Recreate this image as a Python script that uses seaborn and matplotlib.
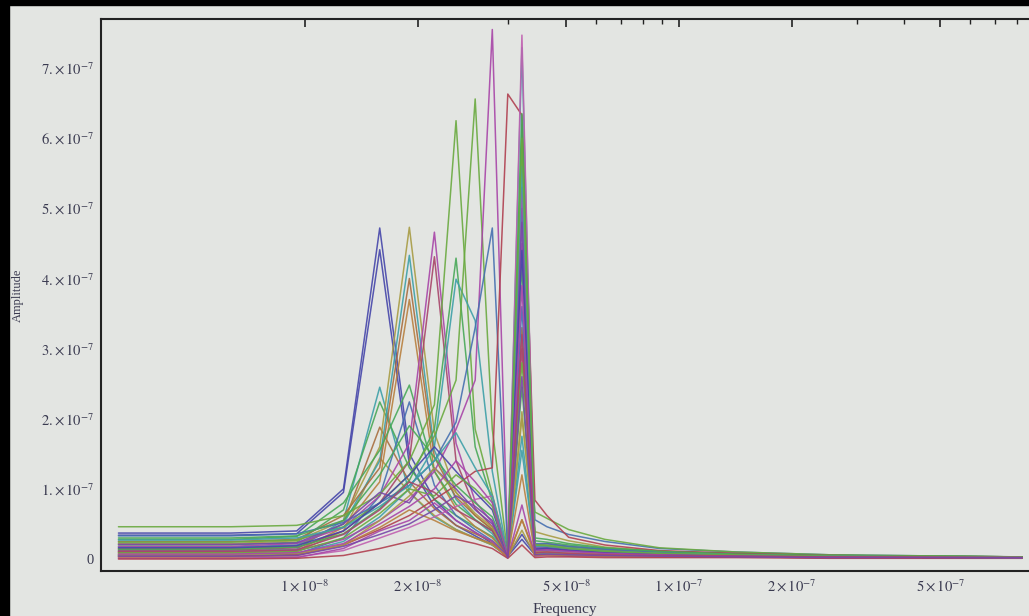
import matplotlib
matplotlib.use('Agg')
import matplotlib.pyplot as plt
from matplotlib.patches import Rectangle
from matplotlib.ticker import FixedLocator, NullFormatter
import pandas as pd
import seaborn as sns

# FFT bins k = 1..14, then a few bins along the smooth tail (Hz)
freq = [3.17e-9, 6.34e-9, 9.50e-9, 1.267e-8, 1.584e-8, 1.901e-8, 2.218e-8,
        2.534e-8, 2.851e-8, 3.168e-8, 3.485e-8, 3.802e-8, 4.118e-8, 4.435e-8,
        5.069e-8, 6.336e-8, 8.870e-8, 1.426e-7, 2.534e-7, 8.268e-7]

# amplitudes in units of 1e-7
amp_blue_a = [0.37, 0.37, 0.40, 1.00, 4.72, 1.50, 0.85, 0.55, 0.38, 0.22, 0.05, 0.35, 0.08, 0.10, 0.08, 0.06, 0.05, 0.04, 0.03, 0.02]
amp_blue_b = [0.34, 0.34, 0.36, 0.95, 4.41, 1.35, 0.75, 0.48, 0.33, 0.20, 0.04, 0.28, 0.06, 0.08, 0.07, 0.05, 0.04, 0.03, 0.03, 0.02]
amp_teal_a = [0.12, 0.12, 0.14, 0.55, 2.45, 0.95, 0.60, 0.42, 0.30, 0.20, 0.03, 1.75, 0.07, 0.09, 0.07, 0.06, 0.05, 0.04, 0.03, 0.02]
amp_green_a = [0.20, 0.20, 0.24, 0.70, 2.24, 1.30, 0.85, 0.62, 0.46, 0.32, 0.05, 2.45, 0.14, 0.16, 0.14, 0.11, 0.08, 0.06, 0.04, 0.03]
amp_brown_a = [0.15, 0.15, 0.18, 0.50, 1.88, 1.10, 0.72, 0.48, 0.36, 0.25, 0.04, 0.56, 0.09, 0.11, 0.09, 0.07, 0.05, 0.04, 0.03, 0.02]
amp_olive_a = [0.08, 0.08, 0.10, 0.40, 1.44, 0.95, 0.62, 0.42, 0.30, 0.20, 0.03, 0.41, 0.05, 0.07, 0.06, 0.05, 0.04, 0.03, 0.02, 0.02]
amp_olive_b = [0.22, 0.22, 0.26, 0.55, 1.60, 4.73, 1.80, 0.95, 0.62, 0.42, 0.05, 2.00, 0.39, 0.34, 0.26, 0.17, 0.11, 0.07, 0.05, 0.03]
amp_teal_b = [0.17, 0.17, 0.20, 0.50, 1.40, 4.33, 1.55, 0.85, 0.56, 0.36, 0.05, 1.55, 0.10, 0.12, 0.10, 0.08, 0.06, 0.05, 0.03, 0.02]
amp_brown_b = [0.25, 0.25, 0.28, 0.62, 1.30, 4.00, 1.45, 0.88, 0.62, 0.42, 0.05, 3.30, 0.20, 0.22, 0.18, 0.13, 0.09, 0.07, 0.05, 0.03]
amp_orange_c = [0.10, 0.10, 0.12, 0.45, 1.10, 3.70, 1.25, 0.72, 0.46, 0.30, 0.04, 1.20, 0.08, 0.10, 0.09, 0.07, 0.05, 0.04, 0.03, 0.02]
amp_green_b = [0.28, 0.28, 0.32, 0.80, 1.55, 2.48, 1.25, 0.78, 0.56, 0.40, 0.06, 6.20, 0.26, 0.24, 0.20, 0.15, 0.11, 0.08, 0.05, 0.03]
amp_blue_c = [0.05, 0.05, 0.07, 0.30, 0.90, 2.24, 1.05, 0.62, 0.42, 0.26, 0.04, 5.00, 0.56, 0.46, 0.35, 0.25, 0.15, 0.10, 0.06, 0.03]
amp_magenta_a = [0.18, 0.18, 0.22, 0.45, 0.90, 1.65, 4.66, 1.65, 0.82, 0.52, 0.05, 5.30, 0.18, 0.18, 0.15, 0.11, 0.08, 0.06, 0.04, 0.02]
amp_maroon_a = [0.13, 0.13, 0.16, 0.40, 0.80, 1.40, 4.31, 1.40, 0.72, 0.46, 0.04, 3.00, 0.13, 0.14, 0.12, 0.09, 0.07, 0.05, 0.03, 0.02]
amp_green_c = [0.46, 0.46, 0.48, 0.62, 0.92, 1.40, 2.20, 6.25, 1.85, 0.92, 0.08, 2.80, 0.67, 0.58, 0.42, 0.28, 0.16, 0.10, 0.06, 0.03]
amp_green_d = [0.14, 0.14, 0.17, 0.36, 0.72, 1.12, 1.85, 4.29, 1.60, 0.82, 0.05, 4.20, 0.14, 0.16, 0.13, 0.10, 0.08, 0.05, 0.04, 0.02]
amp_teal_c = [0.06, 0.06, 0.08, 0.25, 0.60, 1.00, 1.60, 3.99, 3.40, 1.25, 0.04, 7.29, 0.12, 0.12, 0.10, 0.08, 0.06, 0.04, 0.03, 0.02]
amp_green_e = [0.24, 0.24, 0.27, 0.46, 0.80, 1.20, 1.75, 2.55, 6.56, 1.85, 0.06, 5.90, 0.20, 0.20, 0.17, 0.13, 0.09, 0.06, 0.04, 0.03]
amp_magenta_b = [0.10, 0.10, 0.12, 0.28, 0.55, 0.85, 1.25, 1.85, 2.55, 7.55, 0.10, 4.50, 0.14, 0.15, 0.12, 0.10, 0.07, 0.05, 0.03, 0.02]
amp_blue_d = [0.33, 0.33, 0.36, 0.52, 0.80, 1.05, 1.40, 1.95, 3.30, 4.72, 0.08, 3.60, 0.22, 0.22, 0.18, 0.14, 0.10, 0.07, 0.04, 0.02]
amp_red_a = [0.04, 0.04, 0.06, 0.20, 0.42, 0.62, 0.85, 1.05, 1.25, 1.30, 6.63, 6.33, 0.84, 0.62, 0.31, 0.20, 0.12, 0.08, 0.05, 0.02]
amp_pink_a = [0.02, 0.02, 0.03, 0.12, 0.30, 0.45, 0.60, 0.75, 0.85, 0.90, 0.05, 7.47, 0.10, 0.11, 0.09, 0.07, 0.05, 0.04, 0.03, 0.02]
amp_green_f = [0.30, 0.30, 0.33, 0.55, 1.20, 1.90, 1.45, 1.05, 0.80, 0.60, 0.06, 6.35, 0.30, 0.28, 0.22, 0.16, 0.11, 0.07, 0.05, 0.03]
amp_magenta_c = [0.01, 0.01, 0.02, 0.15, 0.40, 0.55, 0.80, 0.55, 0.38, 0.25, 0.02, 0.77, 0.04, 0.05, 0.04, 0.04, 0.03, 0.03, 0.02, 0.02]
amp_orange_d = [0.03, 0.03, 0.05, 0.20, 0.45, 0.70, 0.55, 0.40, 0.30, 0.22, 0.02, 0.56, 0.05, 0.06, 0.05, 0.04, 0.03, 0.03, 0.02, 0.02]
amp_purple_a = [0.21, 0.21, 0.23, 0.50, 0.95, 0.80, 1.30, 1.00, 0.70, 0.50, 0.05, 4.80, 0.16, 0.16, 0.13, 0.10, 0.07, 0.05, 0.04, 0.02]
amp_red_b = [0.00, 0.00, 0.01, 0.05, 0.15, 0.25, 0.30, 0.28, 0.22, 0.15, 0.01, 0.20, 0.02, 0.03, 0.03, 0.02, 0.02, 0.02, 0.01, 0.01]
amp_olive_c = [0.06, 0.06, 0.08, 0.20, 0.55, 0.90, 1.30, 0.95, 0.65, 0.45, 0.03, 2.10, 0.10, 0.10, 0.08, 0.07, 0.05, 0.04, 0.03, 0.02]
amp_teal_d = [0.27, 0.27, 0.30, 0.45, 0.75, 1.05, 1.40, 1.80, 1.30, 0.90, 0.05, 5.60, 0.18, 0.18, 0.15, 0.11, 0.08, 0.06, 0.04, 0.02]
amp_blue_e = [0.16, 0.16, 0.19, 0.40, 0.80, 1.20, 1.60, 1.25, 0.95, 0.70, 0.04, 4.40, 0.14, 0.15, 0.12, 0.09, 0.07, 0.05, 0.03, 0.02]
amp_green_g = [0.09, 0.09, 0.11, 0.30, 0.65, 1.00, 0.90, 1.20, 1.00, 0.75, 0.05, 6.00, 0.20, 0.19, 0.15, 0.11, 0.08, 0.06, 0.04, 0.03]
amp_magenta_d = [0.07, 0.07, 0.09, 0.22, 0.50, 0.75, 1.00, 1.40, 1.10, 0.80, 0.04, 3.90, 0.12, 0.13, 0.11, 0.08, 0.06, 0.04, 0.03, 0.02]
amp_maroon_b = [0.11, 0.11, 0.13, 0.35, 0.70, 1.10, 0.95, 0.70, 0.55, 0.40, 0.03, 3.20, 0.09, 0.10, 0.08, 0.06, 0.05, 0.04, 0.03, 0.02]
amp_violet = [0.04, 0.04, 0.05, 0.18, 0.35, 0.50, 0.70, 0.90, 0.75, 0.55, 0.02, 2.60, 0.06, 0.07, 0.06, 0.05, 0.04, 0.03, 0.02, 0.02]

x_ticks = [1e-8, 2e-8, 5e-8, 1e-7, 2e-7, 5e-7]
x_tick_labels = [r'$1\times10^{-8}$', r'$2\times10^{-8}$', r'$5\times10^{-8}$',
                 r'$1\times10^{-7}$', r'$2\times10^{-7}$', r'$5\times10^{-7}$']
x_minor = [3.5e-8, 6e-8, 7e-8, 8e-8, 9e-8, 3e-7, 4e-7, 6e-7, 7e-7, 8e-7]
y_ticks = [0, 1e-7, 2e-7, 3e-7, 4e-7, 5e-7, 6e-7, 7e-7]
y_tick_labels = ['0'] + [r'$%d.{\times}\,10^{-7}$' % i for i in range(1, 8)]

BLUE = '#4646aa'
AZURE = '#4670b0'
MAROON = '#a8456a'
MAGENTA = '#a845a8'
PINK = '#c060b0'
OLIVE = '#a89c45'
GREEN = '#48a858'
LIME = '#6aaa40'
TEAL = '#3ea0a8'
BROWN = '#a86e40'
ORANGE = '#b8803f'
RED = '#b04050'
PURPLE = '#7848a8'


def build_frame():
    series = {
        'blue_a': (amp_blue_a, BLUE), 'blue_b': (amp_blue_b, BLUE),
        'teal_a': (amp_teal_a, TEAL), 'green_a': (amp_green_a, GREEN),
        'brown_a': (amp_brown_a, BROWN), 'olive_a': (amp_olive_a, OLIVE),
        'olive_b': (amp_olive_b, OLIVE), 'teal_b': (amp_teal_b, TEAL),
        'brown_b': (amp_brown_b, BROWN), 'orange_c': (amp_orange_c, ORANGE),
        'green_b': (amp_green_b, GREEN), 'blue_c': (amp_blue_c, AZURE),
        'magenta_a': (amp_magenta_a, MAGENTA), 'maroon_a': (amp_maroon_a, MAROON),
        'green_c': (amp_green_c, LIME), 'green_d': (amp_green_d, GREEN),
        'teal_c': (amp_teal_c, TEAL), 'green_e': (amp_green_e, LIME),
        'magenta_b': (amp_magenta_b, MAGENTA), 'blue_d': (amp_blue_d, AZURE),
        'red_a': (amp_red_a, RED), 'pink_a': (amp_pink_a, PINK),
        'green_f': (amp_green_f, GREEN), 'magenta_c': (amp_magenta_c, MAGENTA),
        'orange_d': (amp_orange_d, ORANGE), 'purple_a': (amp_purple_a, PURPLE),
        'red_b': (amp_red_b, RED), 'olive_c': (amp_olive_c, OLIVE),
        'teal_d': (amp_teal_d, TEAL), 'blue_e': (amp_blue_e, BLUE),
        'green_g': (amp_green_g, LIME), 'magenta_d': (amp_magenta_d, MAGENTA),
        'maroon_b': (amp_maroon_b, MAROON), 'violet': (amp_violet, PURPLE),
    }
    rows = []
    palette = {}
    for name, (vals, col) in series.items():
        palette[name] = col
        for f, v in zip(freq, vals):
            rows.append((name, f, v * 1e-7))
    df = pd.DataFrame(rows, columns=['series', 'freq', 'amp'])
    return df, palette


def main():
    bg = '#e3e5e2'
    sns.set_theme(style='white')
    plt.rcParams['font.family'] = ['Liberation Serif', 'DejaVu Serif']
    plt.rcParams['mathtext.fontset'] = 'stix'

    df, palette = build_frame()

    fig = plt.figure(figsize=(10.29, 6.16), dpi=100)
    fig.patch.set_facecolor(bg)
    fig.add_artist(Rectangle((0, 0), 9 / 1029, 1, transform=fig.transFigure,
                             color='black', zorder=10))
    fig.add_artist(Rectangle((0, 1 - 5 / 616), 1, 5 / 616,
                             transform=fig.transFigure, color='black', zorder=10))

    ax = fig.add_axes([101 / 1029, 45 / 616, 928 / 1029, 552 / 616])
    ax.set_facecolor(bg)
    sns.lineplot(data=df, x='freq', y='amp', hue='series', palette=palette,
                 legend=False, estimator=None, sort=False, linewidth=1.1,
                 alpha=0.9, ax=ax)
    ax.set_xscale('log')
    ax.set_xlim(2.847e-9, 8.63e-7)
    ax.set_ylim(-0.171e-7, 7.70e-7)

    for side in ['left', 'bottom', 'top']:
        ax.spines[side].set_visible(True)
        ax.spines[side].set_color('#222222')
        ax.spines[side].set_linewidth(1.5)
    ax.spines['right'].set_visible(False)

    ax.set_xticks(x_ticks)
    ax.set_xticklabels(x_tick_labels)
    ax.xaxis.set_minor_locator(FixedLocator(x_minor))
    ax.xaxis.set_minor_formatter(NullFormatter())
    ax.set_yticks(y_ticks)
    ax.set_yticklabels(y_tick_labels)
    ax.yaxis.set_minor_locator(FixedLocator([i * 0.2e-7 for i in range(1, 39) if i % 5]))

    ax.tick_params(which='both', direction='in', top=True, right=False,
                   colors='#222222', labelcolor='#3a3a50', labelsize=10.5)
    ax.tick_params(which='major', length=6, width=1.2, pad=5)
    ax.tick_params(which='minor', length=3.5, width=1.0)

    ax.set_xlabel('Frequency', fontsize=11, color='#3a3a50')
    ax.xaxis.set_label_coords(0.5, -0.058)
    ax.set_ylabel('Amplitude', fontsize=9, color='#3a3a50')
    ax.yaxis.set_label_coords(-0.083, 0.5)

    fig.savefig('out.png', dpi=100, facecolor=bg)


if __name__ == '__main__':
    main()
